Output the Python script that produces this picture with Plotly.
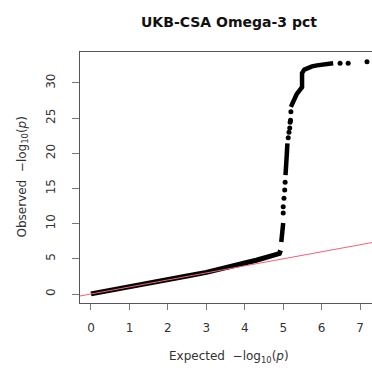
import plotly.graph_objects as go

# ---- data ----
title_text = "UKB-CSA Omega-3 pct"
x_ticks = [0, 1, 2, 3, 4, 5, 6, 7]
y_ticks = [0, 5, 10, 15, 20, 25, 30]

# dense lower part of the QQ curve (expected, observed)
dense_exp = [0.0, 0.5, 1.0, 1.5, 2.0, 2.5, 3.0, 3.5, 4.0, 4.3, 4.6, 4.8, 4.9, 4.93]
dense_obs = [0.02, 0.5, 1.0, 1.52, 2.03, 2.55, 3.08, 3.65, 4.4, 4.8, 5.2, 5.5, 5.75, 6.2]

# runs of overlapping points in the tail (None separates runs)
run_exp = [4.95, 5.00, None, 5.06, 5.11, None,
           5.20, 5.26, 5.35, 5.49, 5.49, 5.55, 5.62, 5.75, 5.88, 6.10, 6.30]
run_obs = [7.4, 10.1, None, 16.9, 21.4, None,
           26.6, 27.3, 28.4, 29.4, 31.4, 31.9, 32.1, 32.35, 32.5, 32.7, 32.8]

# isolated tail points
pt_exp = [5.00, 5.00, 5.02, 5.04, 5.05, 5.13, 5.15, 5.17, 5.18, 5.19, 5.20, 6.48, 6.69, 7.18]
pt_obs = [11.5, 12.4, 13.6, 14.8, 15.9, 22.2, 23.0, 23.6, 24.4, 24.7, 25.9, 32.8, 32.8, 33.0]

x_range = [-0.286, 7.31]
y_range = [-1.28, 34.4]

W, H = 372, 370
ML, MR, MT = 80, 0, 52
MB = H - 303

font_family = "DejaVu Sans"

fig = go.Figure()
fig.add_trace(go.Scatter(x=dense_exp, y=dense_obs, mode="lines",
                         line=dict(color="black", width=5), hoverinfo="skip"))
fig.add_trace(go.Scatter(x=run_exp, y=run_obs, mode="lines",
                         line=dict(color="black", width=4.5), connectgaps=False,
                         hoverinfo="skip"))
fig.add_trace(go.Scatter(x=pt_exp, y=pt_obs, mode="markers",
                         marker=dict(color="black", size=5), hoverinfo="skip"))
# y = x reference line across the axis range
fig.add_trace(go.Scatter(x=x_range, y=x_range, mode="lines",
                         line=dict(color="#f0607a", width=1), hoverinfo="skip"))

fig.update_layout(
    width=W, height=H,
    margin=dict(l=ML, r=MR, t=MT, b=MB),
    paper_bgcolor="white", plot_bgcolor="white",
    showlegend=False,
    font=dict(family=font_family, color="#333333", size=12),
)
fig.update_xaxes(range=x_range, tickvals=x_ticks, ticktext=[str(v) for v in x_ticks],
                 showgrid=False, zeroline=False, showline=True, linecolor="#555555",
                 linewidth=1, mirror=True, ticks="outside", ticklen=6,
                 tickcolor="#777777", tickfont=dict(size=12, color="#333333"),
                 ticklabelstandoff=8)
fig.update_yaxes(range=y_range, tickvals=y_ticks, ticktext=[str(v) for v in y_ticks],
                 showgrid=False, zeroline=False, showline=True, linecolor="#555555",
                 linewidth=1, mirror=False, ticks="outside", ticklen=7,
                 tickcolor="#777777", tickangle=-90,
                 tickfont=dict(size=12, color="#333333"), ticklabelstandoff=12)

plot_w = W - ML - MR
plot_h = H - MT - MB
cx = (228.5 - ML) / plot_w
fig.add_annotation(text="<b>" + title_text + "</b>", xref="paper", yref="paper",
                   x=cx, y=1 + (MT - 22) / plot_h, showarrow=False,
                   font=dict(size=14, color="#111111", family=font_family),
                   xanchor="center", yanchor="middle")
fig.add_annotation(text="Expected  \u2212log<sub>10</sub>(<i>p</i>)", xref="paper", yref="paper",
                   x=cx, y=-(357 - (H - MB)) / plot_h, showarrow=False,
                   font=dict(size=12, color="#333333", family=font_family),
                   xanchor="center", yanchor="middle")
fig.add_annotation(text="Observed  \u2212log<sub>10</sub>(<i>p</i>)", xref="paper", yref="paper",
                   x=-(ML - 22) / plot_w, y=0.5, showarrow=False, textangle=-90,
                   font=dict(size=12, color="#333333", family=font_family),
                   xanchor="center", yanchor="middle")

fig.write_html(
    "out.html",
    config={"displayModeBar": False, "staticPlot": True},
    post_script="document.body.style.margin='0';document.body.style.overflow='hidden';",
)
